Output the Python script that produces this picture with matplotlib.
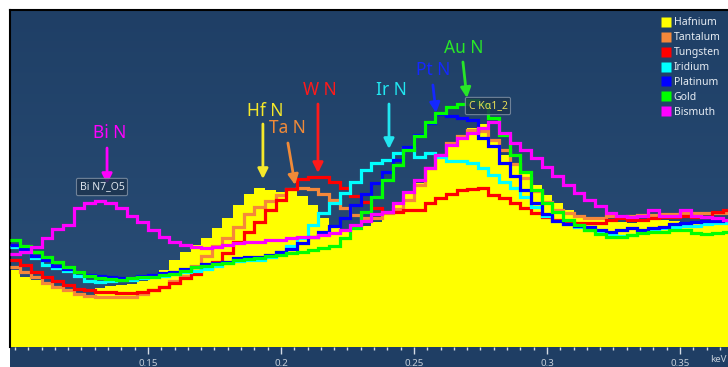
import numpy as np
import matplotlib
matplotlib.use("Agg")
import matplotlib.pyplot as plt
from matplotlib.lines import Line2D
from matplotlib.colors import to_rgb
import matplotlib.patches as mpatches

plt.rcParams['font.family'] = ['Noto Sans', 'DejaVu Sans']

# ---- data (counts per channel) ----
energy_start = 0.098      # keV, left edge of first channel
channel_width = 0.004     # keV

hafnium = [77, 70, 67, 62, 59, 57, 54, 51, 59, 61, 62, 63, 66, 69, 77, 87, 95, 102, 109, 119,
           129, 142, 153, 159, 157, 155, 157, 151, 142, 129, 119, 116, 118, 121, 125, 132, 142, 154, 164, 177,
           192, 205, 212, 219, 223, 207, 192, 182, 175, 162, 152, 144, 137, 132, 129, 127, 126, 125, 124, 125,
           129, 127, 126, 125, 125, 127, 126, 127]
tantalum = [80, 75, 70, 64, 60, 57, 53, 51, 50, 50, 50, 50, 53, 57, 60, 66, 71, 81, 91, 101,
            109, 120, 133, 140, 146, 152, 158, 159, 158, 153, 147, 139, 132, 129, 129, 134, 138, 147, 162, 179,
            192, 204, 211, 217, 216, 207, 197, 183, 169, 156, 145, 137, 134, 131, 129, 129, 131, 130, 131, 132,
            132, 133, 133, 134, 134, 134, 134, 134]
tungsten = [87, 82, 75, 70, 66, 62, 58, 57, 55, 55, 54, 54, 55, 57, 60, 64, 69, 73, 79, 85,
            94, 105, 115, 125, 137, 147, 158, 168, 170, 170, 165, 159, 151, 145, 139, 135, 135, 137, 137, 144,
            149, 153, 157, 158, 159, 152, 149, 144, 139, 134, 130, 127, 125, 124, 124, 124, 127, 129, 127, 127,
            129, 130, 130, 131, 130, 130, 135, 137]
iridium = [100, 95, 89, 82, 79, 76, 71, 66, 65, 66, 67, 67, 69, 70, 71, 73, 75, 76, 78, 81,
           84, 86, 87, 87, 90, 95, 101, 109, 122, 134, 144, 154, 165, 177, 184, 187, 194, 199, 190, 194,
           190, 186, 186, 184, 179, 172, 165, 159, 150, 140, 131, 126, 123, 120, 117, 116, 113, 111, 112, 115,
           117, 119, 120, 121, 121, 123, 124, 124]
platinum = [102, 98, 91, 87, 81, 78, 75, 72, 71, 70, 69, 69, 71, 72, 74, 75, 78, 80, 83, 84,
            85, 89, 90, 90, 92, 95, 98, 104, 110, 115, 121, 129, 142, 153, 164, 175, 187, 200, 212, 224,
            233, 231, 229, 227, 209, 201, 184, 171, 157, 144, 133, 126, 123, 121, 120, 117, 115, 117, 119, 117,
            119, 120, 123, 124, 125, 126, 126, 127]
gold = [107, 101, 95, 90, 85, 80, 75, 71, 69, 68, 67, 69, 70, 70, 72, 73, 76, 80, 81, 83,
        84, 87, 88, 89, 91, 92, 94, 95, 97, 99, 101, 109, 119, 135, 150, 167, 182, 197, 211, 225,
        234, 240, 243, 247, 243, 229, 212, 192, 175, 157, 144, 135, 127, 122, 117, 113, 110, 110, 112, 114,
        115, 115, 117, 117, 114, 113, 114, 115]
bismuth = [93, 95, 100, 109, 118, 122, 139, 144, 146, 144, 139, 131, 125, 117, 110, 105, 102, 100, 99, 100,
           102, 104, 105, 105, 107, 107, 109, 110, 110, 112, 114, 117, 122, 126, 133, 135, 144, 155, 167, 179,
           192, 202, 209, 214, 219, 225, 214, 204, 197, 189, 180, 171, 162, 154, 147, 141, 134, 131, 130, 131,
           137, 131, 131, 137, 131, 130, 129, 127]

line_series = [("Tantalum", tantalum, "#f5883a"),
               ("Tungsten", tungsten, "#ff0000"),
               ("Iridium", iridium, "#00ffff"),
               ("Platinum", platinum, "#0000ff"),
               ("Gold", gold, "#00ff00"),
               ("Bismuth", bismuth, "#ff00ff")]

major_ticks = [0.15, 0.20, 0.25, 0.30, 0.35]
major_labels = ["0.15", "0.2", "0.25", "0.3", "0.35"]

# peak annotations: text, colour, text pos, arrow tail, arrow head  (keV, counts)
peak_labels = [
    ("Bi N", "#ff00ff", (0.1357, 214), (0.1346, 199), (0.1346, 163)),
    ("Hf N", "#f5e82a", (0.1940, 236), (0.1932, 223), (0.1932, 168)),
    ("Ta N", "#f08a38", (0.2023, 219), (0.2026, 204), (0.2053, 162)),
    ("W N", "#ff1a1a", (0.2147, 257), (0.2139, 243), (0.2139, 174)),
    ("Ir N", "#22e6f0", (0.2414, 257), (0.2406, 243), (0.2406, 198)),
    ("Pt N", "#1428ff", (0.2573, 277), (0.2571, 262), (0.2583, 234)),
    ("Au N", "#28e628", (0.2686, 299), (0.2684, 285), (0.2699, 249)),
]
line_tags = [("Bi N7_O5", "#dde4ec", (0.1327, 160)),
             ("C K\u03b11_2", "#e8de55", (0.2778, 241))]

# ---- figure ----
W, H = 728, 367
fig = plt.figure(figsize=(W / 100, H / 100), dpi=100, facecolor="white")

# axis strip (behind the axes)
fig.patches.append(mpatches.Rectangle((10 / W, 0), 718 / W, 20 / H, transform=fig.transFigure,
                                      facecolor="#1f3e64", edgecolor="none", zorder=-5))

ax = fig.add_axes([10 / W, 20 / H, 718 / W, 337 / H])
ax.set_zorder(2)

xmin, xmax = 0.09812, 0.36805
ymax = 337

# background gradient
c_top = np.array(to_rgb("#1f3f66"))
c_bot = np.array(to_rgb("#2a4f78"))
t = np.linspace(0, 1, 256)[:, None, None]
grad = c_top * (1 - t) + c_bot * t
grad = np.repeat(grad, 2, axis=1)
ax.imshow(grad, extent=[0, 1, 0, 1], transform=ax.transAxes, aspect="auto", zorder=0)

edges = energy_start + channel_width * np.arange(len(hafnium) + 1)

ax.stairs(hafnium, edges, fill=True, color="#ffff00", baseline=0, zorder=2, label="Hafnium")
for name, vals, col in line_series:
    ax.stairs(vals, edges, color=col, linewidth=2.3, baseline=None, zorder=3, label=name)

for txt, col, tpos, tail, head in peak_labels:
    ax.text(tpos[0], tpos[1], txt, color=col, fontsize=12.5, ha="center", va="center", zorder=6)
    ax.annotate("", xy=head, xytext=tail,
                arrowprops=dict(arrowstyle="-|>", color=col, lw=2.0, mutation_scale=15,
                                shrinkA=0, shrinkB=0), zorder=6)

for txt, col, pos in line_tags:
    ax.text(pos[0], pos[1], txt, color=col, fontsize=7.5, ha="center", va="center", zorder=7,
            bbox=dict(boxstyle="round,pad=0.3,rounding_size=0.15", facecolor="#1d3550",
                      edgecolor="#7f8fa3", linewidth=0.8, alpha=0.85))

ax.set_xlim(xmin, xmax)
ax.set_ylim(0, ymax)
ax.set_yticks([])

ax.set_xticks(major_ticks)
ax.set_xticklabels(major_labels)
ax.set_xticks(np.arange(0.100, 0.3681, 0.005), minor=True)
ax.tick_params(axis="x", which="major", direction="out", length=5, width=1, color="#d5dce4",
               labelcolor="#c5ced9", labelsize=7, pad=4)
ax.tick_params(axis="x", which="minor", direction="out", length=2.5, width=1, color="#d5dce4")

for s in ["right", "bottom"]:
    ax.spines[s].set_visible(False)
for s in ["top", "left"]:
    ax.spines[s].set_color("black")
    ax.spines[s].set_linewidth(1.5)

fig.text(727 / W, 7 / H, "keV", color="#c5ced9", fontsize=7, ha="right", va="center")

# legend
handles = [Line2D([], [], marker="s", linestyle="none", markersize=7, markerfacecolor="#ffff00",
                  markeredgecolor="none", label="Hafnium")]
for name, vals, col in line_series:
    handles.append(Line2D([], [], marker="s", linestyle="none", markersize=7, markerfacecolor=col,
                          markeredgecolor="none", label=name))
leg = ax.legend(handles=handles, loc="upper right", bbox_to_anchor=(1.0, 1.0), frameon=False,
                fontsize=7.5, labelcolor="#e6ecf3", handletextpad=0.35, labelspacing=0.38,
                handlelength=0.8, borderaxespad=0.3)
leg.set_zorder(8)

fig.savefig("out.png", dpi=100, facecolor="white")
